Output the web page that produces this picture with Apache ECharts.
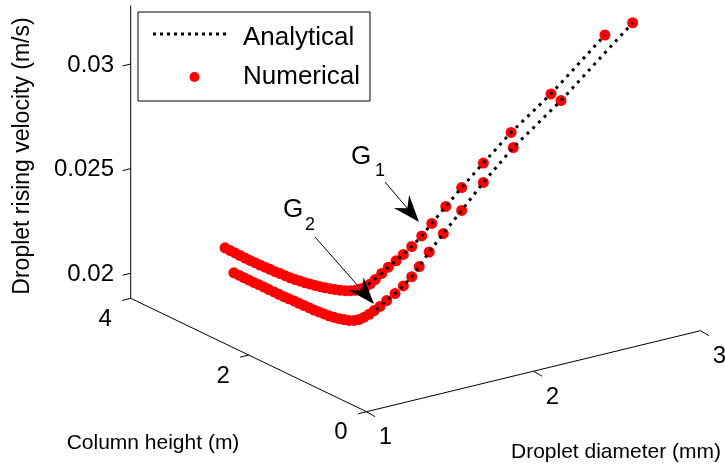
<!DOCTYPE html>
<html><head><meta charset="utf-8">
<script src="https://cdn.jsdelivr.net/npm/echarts@6/dist/echarts.min.js"></script>
<style>html,body{margin:0;padding:0;background:#fff}#c{width:725px;height:469px}</style>
</head><body><div id="c"></div>
<script>
// ================= DATA =================
// Curve G1 (column height held at g1Height)
const g1Height = 2.4; // m
const g1Diameter = [1.00,1.03,1.06,1.09,1.12,1.15,1.18,1.21,1.24,1.27,1.30,1.33,1.36,1.39,1.42,1.45,1.48,1.51,1.54,1.57,1.60,1.63,1.66,1.69,1.72,1.75,1.78,1.81,1.84,1.87,1.90,
  1.938,1.978,2.024,2.068,2.118,2.178,2.238,2.322,2.417,2.547,2.713,2.952,3.275];
const g1Velocity = [0.02338,0.02320,0.02302,0.02284,0.02266,0.02249,0.02232,0.02215,0.02199,0.02183,0.02166,0.02151,0.02135,0.02119,0.02105,0.02092,0.02078,0.02066,0.02054,0.02042,0.02031,0.02021,0.02011,0.02002,0.01994,0.01988,0.01984,0.01985,0.01988,0.01997,0.02013,
  0.02034,0.02056,0.02078,0.02100,0.02128,0.02167,0.02215,0.02280,0.02352,0.02444,0.02558,0.02696,0.02915];
// Curve G2
const g2Height = 2.25; // m
const g2Diameter = [1.00,1.03,1.06,1.09,1.12,1.15,1.18,1.21,1.24,1.27,1.30,1.33,1.36,1.39,1.42,1.45,1.48,1.51,1.54,1.57,1.60,1.63,1.66,1.69,1.72,1.75,1.78,1.81,1.84,
  1.875,1.915,1.965,2.015,2.065,2.110,2.170,2.254,2.364,2.494,2.673,2.959,3.388];
const g2Velocity = [0.02239,0.02222,0.02204,0.02187,0.02170,0.02153,0.02136,0.02118,0.02101,0.02084,0.02067,0.02051,0.02035,0.02018,0.02001,0.01985,0.01968,0.01953,0.01938,0.01923,0.01910,0.01898,0.01888,0.01878,0.01872,0.01871,0.01876,0.01884,0.01896,
  0.01909,0.01929,0.01953,0.01980,0.02014,0.02054,0.02112,0.02184,0.02273,0.02382,0.02514,0.02683,0.02972];
// Analytical solutions
const g1AnaDiameter = [1.856,1.938,1.978,2.024,2.068,2.118,2.178,2.238,2.322,2.417,2.547,2.713,2.952,3.275];
const g1AnaVelocity = [0.01997,0.02034,0.02056,0.02078,0.02100,0.02128,0.02167,0.02215,0.02280,0.02352,0.02444,0.02558,0.02696,0.02915];
const g2AnaDiameter = [1.851,1.875,1.915,1.965,2.015,2.065,2.110,2.170,2.254,2.364,2.494,2.673,2.959,3.388];
const g2AnaVelocity = [0.01899,0.01909,0.01929,0.01953,0.01980,0.02014,0.02054,0.02112,0.02184,0.02273,0.02382,0.02514,0.02683,0.02972];
// Ticks
const diameterTicks = [1, 2, 3];
const heightTicks = [0, 2, 4];
const velocityTicks = [0.02, 0.025, 0.03];
const velocityTickLabels = ['0.02', '0.025', '0.03'];
const legendNames = ['Analytical', 'Numerical'];

// ================= LAYOUT (3D view projection) =================
const VIEW = {
  origin: [366.5, 411.7],   // (d=1, h=0, v=vMin)
  dVec: [167, -40.5],       // per mm
  hVec: [-58.95, -28.35],   // per m
  vScale: 20920,            // per m/s upward
  dRange: [1, 3], hRange: [0, 4], vRange: [0.0188, 0.0328]
};
function proj(d, h, v) {
  const a = d - VIEW.dRange[0], b = h - VIEW.hRange[0], c = v - VIEW.vRange[0];
  return [VIEW.origin[0] + a * VIEW.dVec[0] + b * VIEW.hVec[0],
          VIEW.origin[1] + a * VIEW.dVec[1] + b * VIEW.hVec[1] - c * VIEW.vScale];
}
function curve(ds, h, vs) { return ds.map((d, i) => proj(d, h, vs[i])); }

const FONT = '"Liberation Sans", Arial, Helvetica, sans-serif';
const chart = echarts.init(document.getElementById('c'), null, {renderer: 'canvas'});
const measureCtx = document.createElement('canvas').getContext('2d');
function textWidth(s, size) { measureCtx.font = size + 'px ' + FONT; return measureCtx.measureText(s).width; }

function txt(x, y, s, size, align, vAlign, rot) {
  let ax = x, al = align;
  if (align === 'right') { ax = x - textWidth(s, size); al = 'left'; }
  return {type: 'text', x: ax, y: y, rotation: rot || 0, z: 50,
    style: {text: s, fill: '#000', font: size + 'px ' + FONT, align: al, verticalAlign: vAlign}};
}
function seg(a, b, w, dash) {
  return {type: 'line', z: 50, shape: {x1: a[0], y1: a[1], x2: b[0], y2: b[1]},
    style: {stroke: '#000', lineWidth: w || 1, lineDash: dash || null}};
}
function arrow(from, to, L, W, notch) {
  const dx = to[0] - from[0], dy = to[1] - from[1], n = Math.hypot(dx, dy);
  const u = [dx / n, dy / n], p = [-u[1], u[0]];
  const back = [to[0] - (L - notch) * u[0], to[1] - (L - notch) * u[1]];
  const c1 = [to[0] - L * u[0] + W * p[0], to[1] - L * u[1] + W * p[1]];
  const c2 = [to[0] - L * u[0] - W * p[0], to[1] - L * u[1] - W * p[1]];
  return [seg(from, back, 1),
    {type: 'polygon', z: 50, shape: {points: [to, c1, back, c2]}, style: {fill: '#000'}}];
}

const els = [];
const [d0, d1] = VIEW.dRange, [h0, h1] = VIEW.hRange, [v0, v1] = VIEW.vRange;
// axes lines
els.push(seg(proj(d0, h0, v0), proj(d1, h0, v0)));
els.push(seg(proj(d0, h0, v0), proj(d0, h1, v0)));
els.push(seg(proj(d0, h1, v0), proj(d0, h1, v1)));
// diameter ticks
diameterTicks.forEach(t => {
  const p = proj(t, h0, v0);
  els.push(seg(p, [p[0] + 8.5, p[1] + 5]));
  els.push(txt(p[0] + 19, p[1] + 26, String(t), 24, 'center', 'middle'));
});
heightTicks.forEach(t => {
  const p = proj(d0, t, v0);
  els.push(seg(p, [p[0] - 8.5, p[1] + 2.2]));
  els.push(txt(p[0] - 25.5, p[1] + 21, String(t), 24, 'center', 'middle'));
});
velocityTicks.forEach((t, i) => {
  const p = proj(d0, h1, t);
  els.push(seg(p, [p[0] - 8, p[1] + 2]));
  els.push(txt(114, p[1] + 1, velocityTickLabels[i], 24, 'right', 'middle'));
});
// axis names
els.push(txt(616, 452, 'Droplet diameter (mm)', 21, 'center', 'middle'));
els.push(txt(153, 443, 'Column height (m)', 21, 'center', 'middle'));
els.push(txt(23, 156, 'Droplet rising velocity (m/s)', 23, 'center', 'middle', Math.PI / 2));
// annotations
els.push(txt(361, 157, 'G', 26, 'center', 'middle'));
els.push(txt(380, 171, '1', 18, 'center', 'middle'));
els.push(txt(293, 210, 'G', 26, 'center', 'middle'));
els.push(txt(310, 225, '2', 18, 'center', 'middle'));
els.push(...arrow([385, 182], [419, 222], 27, 10, 9));
els.push(...arrow([315, 237], [374, 304], 27, 10, 9));
// legend
els.push({type: 'rect', z: 60, shape: {x: 138, y: 12, width: 232, height: 89}, style: {fill: '#fff', stroke: '#000', lineWidth: 1}});
els.push({type: 'line', z: 61, shape: {x1: 153, y1: 34, x2: 230, y2: 34}, style: {stroke: '#000', lineWidth: 3, lineDash: [3, 4]}});
els.push({type: 'circle', z: 61, shape: {cx: 194.5, cy: 77, r: 5}, style: {fill: '#ff0000'}});
els.push(Object.assign(txt(243, 38, legendNames[0], 26, 'left', 'middle'), {z: 62}));
els.push(Object.assign(txt(243, 77, legendNames[1], 26, 'left', 'middle'), {z: 62}));

const anaStyle = {color: '#000', width: 3, type: [3, 5]};
chart.setOption({
  animation: false,
  backgroundColor: '#fff',
  grid: {left: 0, right: 0, top: 0, bottom: 0},
  xAxis: {type: 'value', min: 0, max: 725, show: false},
  yAxis: {type: 'value', min: 0, max: 469, inverse: true, show: false},
  series: [
    {name: legendNames[1], type: 'scatter', data: curve(g1Diameter, g1Height, g1Velocity), symbolSize: 11,
      itemStyle: {color: '#ff0000', opacity: 1}, z: 2, clip: false},
    {name: legendNames[1], type: 'scatter', data: curve(g2Diameter, g2Height, g2Velocity), symbolSize: 11,
      itemStyle: {color: '#ff0000', opacity: 1}, z: 2, clip: false},
    {name: legendNames[0], type: 'line', data: curve(g1AnaDiameter, g1Height, g1AnaVelocity), symbol: 'none',
      lineStyle: anaStyle, z: 3, clip: false},
    {name: legendNames[0], type: 'line', data: curve(g2AnaDiameter, g2Height, g2AnaVelocity), symbol: 'none',
      lineStyle: anaStyle, z: 3, clip: false}
  ],
  graphic: {elements: els}
});
</script></body></html>
